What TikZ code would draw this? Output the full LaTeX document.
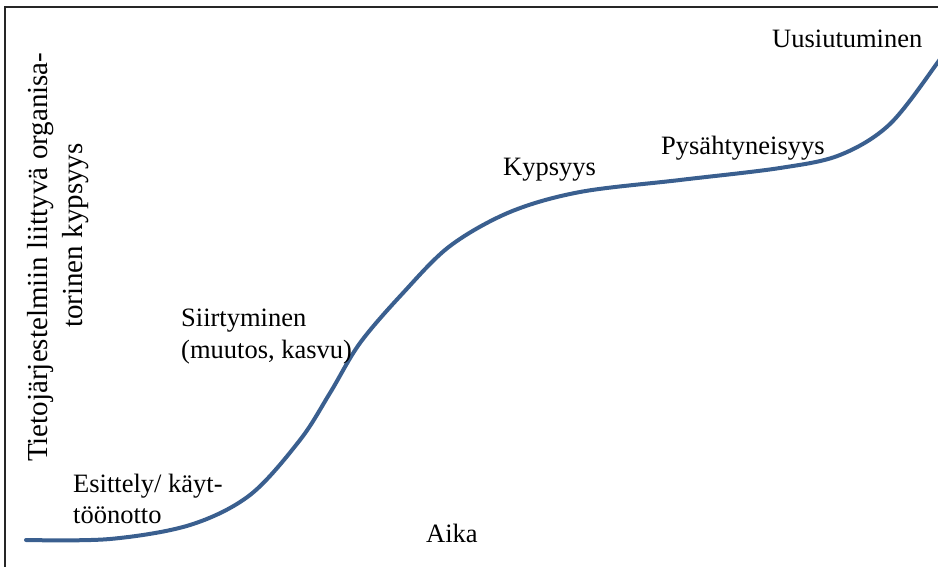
\documentclass[tikz,border=0pt]{standalone}
\usepackage{fontspec}
\setmainfont{Liberation Serif}
\begin{document}
\begin{tikzpicture}[x=1pt,y=-1pt,
  axisline/.style={draw=black!85, line width=1.8pt},
  curve/.style={draw={rgb,255:red,58;green,95;blue,143}, line width=4pt, line cap=round},
  lbl/.style={anchor=base west, inner sep=0pt, font=\rmfamily\fontsize{26.5}{31}\selectfont},
  vlbl/.style={anchor=base west, inner sep=0pt, rotate=90, font=\rmfamily\fontsize{29}{35}\selectfont}]
  \useasboundingbox (0,0) rectangle (938,567);
  % axes: vertical on the left, horizontal along the top
  \coordinate (origin) at (5,7);
  \coordinate (ytop) at (5,567);
  \coordinate (xend) at (938,7);
  \draw[axisline] (xend) -- (origin) -- (ytop);
  % maturity curve
  \begin{scope}
    \clip (0,0) rectangle (938,567);
    \draw[curve] plot[smooth, tension=0.55] coordinates {
      (26,540) (110,539) (190,525) (250,495) (300,440) (330,393) (360,343)
      (403,293) (450,246) (510,212) (580,192) (680,180) (780,168) (840,155)
      (890,124) (938,62) (948,45)};
  \end{scope}
  % phase labels
  \node[lbl] (uus) at (772,48) {Uusiutuminen};
  \node[lbl] (pys) at (661,155) {Pysähtyneisyys};
  \node[lbl] (kyp) at (503,176) {Kypsyys};
  \node[lbl] (sii1) at (181,326) {Siirtyminen};
  \node[lbl] (sii2) at (181,358) {(muutos, kasvu)};
  \node[lbl] (esi1) at (73,492) {Esittely/ käyt-};
  \node[lbl] (esi2) at (73,523) {töönotto};
  \node[lbl] (aika) at (426,542) {Aika};
  % vertical axis title
  \node[vlbl] (ytit1) at (47,462) {Tietojärjestelmiin liittyvä organisa-};
  \node[vlbl] (ytit2) at (82,328) {torinen kypsyys};
\end{tikzpicture}
\end{document}
